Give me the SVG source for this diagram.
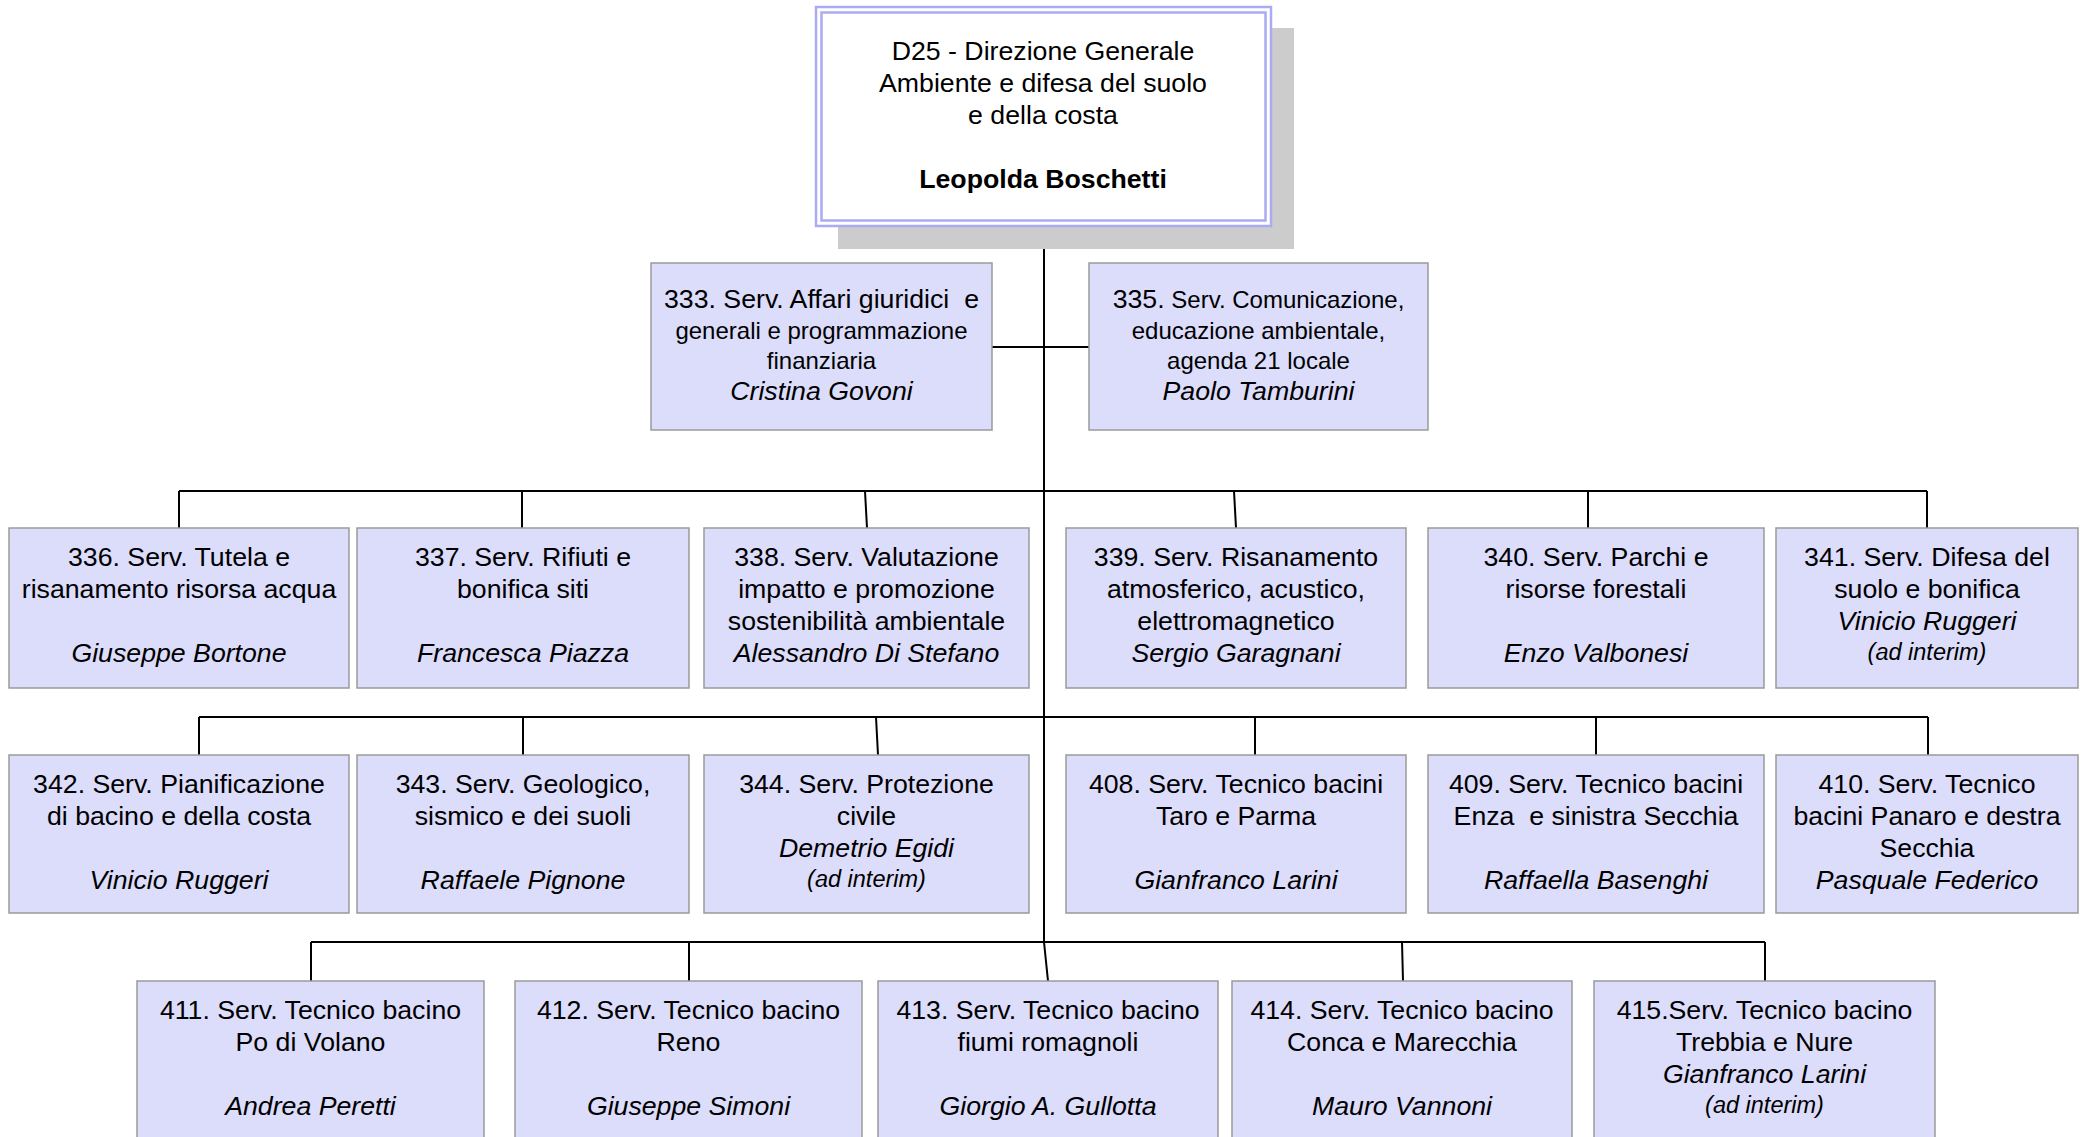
<svg xmlns="http://www.w3.org/2000/svg" width="2087" height="1137" viewBox="0 0 2087 1137">
<style>
text{font-family:"Liberation Sans",Arial,sans-serif;fill:#000;text-anchor:middle;font-size:26.7px}
.s{font-size:24px}
.a{font-size:23.5px}
.i{font-style:italic}
.b{font-weight:bold}
.box{fill:#dcdcfb;stroke:#9a9a9a;stroke-width:1.5}
.c{stroke:#000;stroke-width:2;fill:none}
</style>
<rect width="2087" height="1137" fill="#fff"/>
<g id="connectors">
<path class="c" d="M1044 227V942L1048 981"/>
<path class="c" d="M992 347H1089"/>
<path class="c" d="M179 491H1927M179 491V528M522 491V528M865 491L867 528M1234 491L1236 528M1588 491V528M1927 491V528"/>
<path class="c" d="M199 717H1928M199 717V755M523 717V755M876 717L878 755M1255 717V755M1596 717V755M1928 717V755"/>
<path class="c" d="M311 942H1765M311 942V981M689 942V981M1402 942L1403 981M1765 942V981"/>
</g>
<g id="d25">
<rect x="838" y="28" width="456" height="221" fill="#cccccc"/>
<rect x="816" y="7" width="455" height="219" fill="#fff" stroke="#aaaaf5" stroke-width="2.5"/>
<rect x="821.5" y="12.5" width="444" height="208" fill="none" stroke="#aaaaf5" stroke-width="2.5"/>
<text x="1043" y="60">D25 - Direzione Generale</text>
<text x="1043" y="92">Ambiente e difesa del suolo</text>
<text x="1043" y="124">e della costa</text>
<text x="1043" y="188" class="b">Leopolda Boschetti</text>
</g>
<g id="n333">
<rect class="box" x="651" y="263" width="341" height="167"/>
<text x="821.5" y="308" xml:space="preserve">333. Serv. Affari giuridici  e</text>
<text x="821.5" y="339" class="s">generali e programmazione</text>
<text x="821.5" y="369" class="s">finanziaria</text>
<text x="821.5" y="400" class="i">Cristina Govoni</text>
</g>
<g id="n335">
<rect class="box" x="1089" y="263" width="339" height="167"/>
<text x="1258.5" y="308">335.<tspan class="s"> Serv. Comunicazione,</tspan></text>
<text x="1258.5" y="339" class="s">educazione ambientale,</text>
<text x="1258.5" y="369" class="s">agenda 21 locale</text>
<text x="1258.5" y="400" class="i">Paolo Tamburini</text>
</g>
<g id="n336">
<rect class="box" x="9" y="528" width="340" height="160"/>
<text x="179" y="566">336. Serv. Tutela e</text>
<text x="179" y="598">risanamento risorsa acqua</text>
<text x="179" y="662" class="i">Giuseppe Bortone</text>
</g>
<g id="n337">
<rect class="box" x="357" y="528" width="332" height="160"/>
<text x="523" y="566">337. Serv. Rifiuti e</text>
<text x="523" y="598">bonifica siti</text>
<text x="523" y="662" class="i">Francesca Piazza</text>
</g>
<g id="n338">
<rect class="box" x="704" y="528" width="325" height="160"/>
<text x="866.5" y="566">338. Serv. Valutazione</text>
<text x="866.5" y="598">impatto e promozione</text>
<text x="866.5" y="630">sostenibilità ambientale</text>
<text x="866.5" y="662" class="i">Alessandro Di Stefano</text>
</g>
<g id="n339">
<rect class="box" x="1066" y="528" width="340" height="160"/>
<text x="1236" y="566">339. Serv. Risanamento</text>
<text x="1236" y="598">atmosferico, acustico,</text>
<text x="1236" y="630">elettromagnetico</text>
<text x="1236" y="662" class="i">Sergio Garagnani</text>
</g>
<g id="n340">
<rect class="box" x="1428" y="528" width="336" height="160"/>
<text x="1596" y="566">340. Serv. Parchi e</text>
<text x="1596" y="598">risorse forestali</text>
<text x="1596" y="662" class="i">Enzo Valbonesi</text>
</g>
<g id="n341">
<rect class="box" x="1776" y="528" width="302" height="160"/>
<text x="1927" y="566">341. Serv. Difesa del</text>
<text x="1927" y="598">suolo e bonifica</text>
<text x="1927" y="630" class="i">Vinicio Ruggeri</text>
<text x="1927" y="660" class="i a">(ad interim)</text>
</g>
<g id="n342">
<rect class="box" x="9" y="755" width="340" height="158"/>
<text x="179" y="793">342. Serv. Pianificazione</text>
<text x="179" y="825">di bacino e della costa</text>
<text x="179" y="889" class="i">Vinicio Ruggeri</text>
</g>
<g id="n343">
<rect class="box" x="357" y="755" width="332" height="158"/>
<text x="523" y="793">343. Serv. Geologico,</text>
<text x="523" y="825">sismico e dei suoli</text>
<text x="523" y="889" class="i">Raffaele Pignone</text>
</g>
<g id="n344">
<rect class="box" x="704" y="755" width="325" height="158"/>
<text x="866.5" y="793">344. Serv. Protezione</text>
<text x="866.5" y="825">civile</text>
<text x="866.5" y="857" class="i">Demetrio Egidi</text>
<text x="866.5" y="887" class="i a">(ad interim)</text>
</g>
<g id="n408">
<rect class="box" x="1066" y="755" width="340" height="158"/>
<text x="1236" y="793">408. Serv. Tecnico bacini</text>
<text x="1236" y="825">Taro e Parma</text>
<text x="1236" y="889" class="i">Gianfranco Larini</text>
</g>
<g id="n409">
<rect class="box" x="1428" y="755" width="336" height="158"/>
<text x="1596" y="793">409. Serv. Tecnico bacini</text>
<text x="1596" y="825" xml:space="preserve">Enza  e sinistra Secchia</text>
<text x="1596" y="889" class="i">Raffaella Basenghi</text>
</g>
<g id="n410">
<rect class="box" x="1776" y="755" width="302" height="158"/>
<text x="1927" y="793">410. Serv. Tecnico</text>
<text x="1927" y="825">bacini Panaro e destra</text>
<text x="1927" y="857">Secchia</text>
<text x="1927" y="889" class="i">Pasquale Federico</text>
</g>
<g id="n411">
<rect class="box" x="137" y="981" width="347" height="170"/>
<text x="310.5" y="1019">411. Serv. Tecnico bacino</text>
<text x="310.5" y="1051">Po di Volano</text>
<text x="310.5" y="1115" class="i">Andrea Peretti</text>
</g>
<g id="n412">
<rect class="box" x="515" y="981" width="347" height="170"/>
<text x="688.5" y="1019">412. Serv. Tecnico bacino</text>
<text x="688.5" y="1051">Reno</text>
<text x="688.5" y="1115" class="i">Giuseppe Simoni</text>
</g>
<g id="n413">
<rect class="box" x="878" y="981" width="340" height="170"/>
<text x="1048" y="1019">413. Serv. Tecnico bacino</text>
<text x="1048" y="1051">fiumi romagnoli</text>
<text x="1048" y="1115" class="i">Giorgio A. Gullotta</text>
</g>
<g id="n414">
<rect class="box" x="1232" y="981" width="340" height="170"/>
<text x="1402" y="1019">414. Serv. Tecnico bacino</text>
<text x="1402" y="1051">Conca e Marecchia</text>
<text x="1402" y="1115" class="i">Mauro Vannoni</text>
</g>
<g id="n415">
<rect class="box" x="1594" y="981" width="341" height="170"/>
<text x="1764.5" y="1019">415.Serv. Tecnico bacino</text>
<text x="1764.5" y="1051">Trebbia e Nure</text>
<text x="1764.5" y="1083" class="i">Gianfranco Larini</text>
<text x="1764.5" y="1113" class="i a">(ad interim)</text>
</g>
</svg>
